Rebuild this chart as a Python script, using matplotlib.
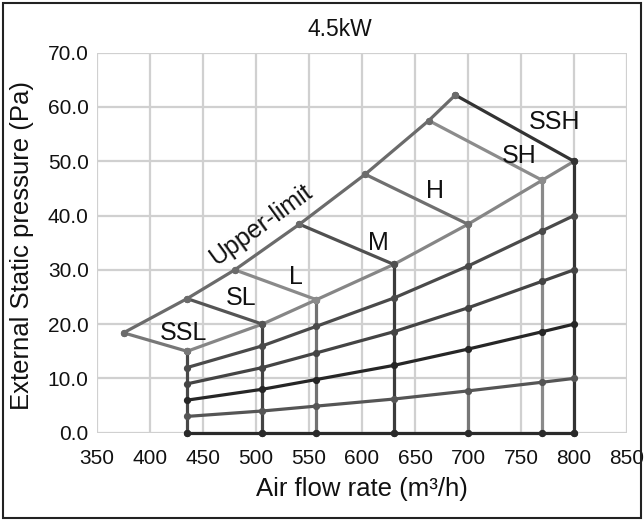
import matplotlib
matplotlib.use("Agg")
import matplotlib.pyplot as plt
from matplotlib.patches import Rectangle

plt.rcParams['font.family'] = ['Liberation Sans', 'DejaVu Sans']

# Fan speed steps
speeds = ["SSL", "SL", "L", "M", "H", "SH", "SSH"]
# Rated air flow (m3/h) and max external static pressure (Pa) for each speed
flow_rated = [435, 506, 557, 630, 700, 770, 800]
esp_rated = [15.0, 20.0, 24.5, 31.0, 38.4, 46.5, 50.0]
# Upper-limit curve
flow_upper = [375, 435, 480, 541, 603, 663, 688]
esp_upper = [18.4, 24.7, 30.0, 38.4, 47.6, 57.5, 62.2]
# Intermediate pressure curves across the speed columns
esp_80 = [12.0, 16.0, 19.6, 24.8, 30.7, 37.2, 40.0]
esp_60 = [9.0, 12.0, 14.7, 18.6, 23.0, 27.9, 30.0]
esp_40 = [6.0, 8.0, 9.8, 12.4, 15.4, 18.6, 20.0]
esp_20 = [3.0, 4.0, 4.9, 6.2, 7.7, 9.3, 10.0]
esp_0 = [0.0, 0.0, 0.0, 0.0, 0.0, 0.0, 0.0]

x_ticks = [350, 400, 450, 500, 550, 600, 650, 700, 750, 800, 850]
y_ticks = [0, 10, 20, 30, 40, 50, 60, 70]

fig = plt.figure(figsize=(6.44, 5.21), dpi=100)
ax = fig.add_axes([97/644, 88.3/521, 530/644, 380/521])

ax.set_xlim(350, 850)
ax.set_ylim(0, 70)
ax.set_xticks(x_ticks)
ax.set_yticks(y_ticks)
ax.set_yticklabels([f"{v:.1f}" for v in y_ticks])
ax.tick_params(length=0, labelsize=15, colors="#111111")
ax.tick_params(axis="x", pad=12)
ax.tick_params(axis="y", pad=6)
ax.grid(True, color="#d0d0d0", lw=1.6)
ax.set_axisbelow(True)
for s in ax.spines.values():
    s.set_visible(False)

lw = 2.3
ms = 4.2

def seg(xs, ys, c, z=3):
    ax.plot(xs, ys, color=c, lw=lw, marker="o", ms=ms, mfc=c, mec=c,
            solid_capstyle="round", zorder=z, clip_on=False)

# Vertical lines at each speed
vcols = ["#484848", "#444444", "#727272", "#3c3c3c", "#777777", "#8a8a8a", "#333333"]
for xv, top, c in zip(flow_rated, esp_rated, vcols):
    seg([xv, xv], [0, top], c, z=3)

# Pressure curves across speeds
for ys, c in [(esp_0, "#2a2a2a"), (esp_20, "#555555"), (esp_40, "#262626"),
              (esp_60, "#444444"), (esp_80, "#4a4a4a")]:
    seg(flow_rated, ys, c, z=4)

# Rated-point curve
seg(flow_rated, esp_rated, "#868686", z=4)

# Speed lines from upper limit down to rated point
scol = ["#777777", "#555555", "#8a8a8a", "#505050", "#707070", "#8c8c8c", "#333333"]
for i, c in enumerate(scol):
    seg([flow_upper[i], flow_rated[i]], [esp_upper[i], esp_rated[i]], c, z=4)

# Upper-limit curve
seg(flow_upper, esp_upper, "#6b6b6b", z=5)

# Speed labels
label_pos = [(432, 18.4), (486, 24.8), (538, 28.7), (615, 35.0),
             (669, 44.5), (748, 51.0), (782, 57.2)]
for name, (lx, ly) in zip(speeds, label_pos):
    ax.text(lx, ly, name, fontsize=18, ha="center", va="center", color="#111111", zorder=6)
ax.text(505, 38.2, "Upper-limit", fontsize=18, ha="center", va="center",
        rotation=36, color="#111111", zorder=6)

ax.set_xlabel("Air flow rate (m³/h)", fontsize=18.5, labelpad=6, color="#111111")
fig.text(22/644, 1 - 245/521, "External Static pressure (Pa)", fontsize=18.5,
         rotation=90, ha="center", va="center", color="#111111")
fig.text(340/644, 1 - 30/521, "4.5kW", fontsize=16.5, ha="center", va="center", color="#111111")

fig.patches.append(Rectangle((3/644, 3/521), 638/644, 515/521, transform=fig.transFigure,
                             fill=False, edgecolor="#222222", lw=1.5))

fig.savefig("out.png", dpi=100)
